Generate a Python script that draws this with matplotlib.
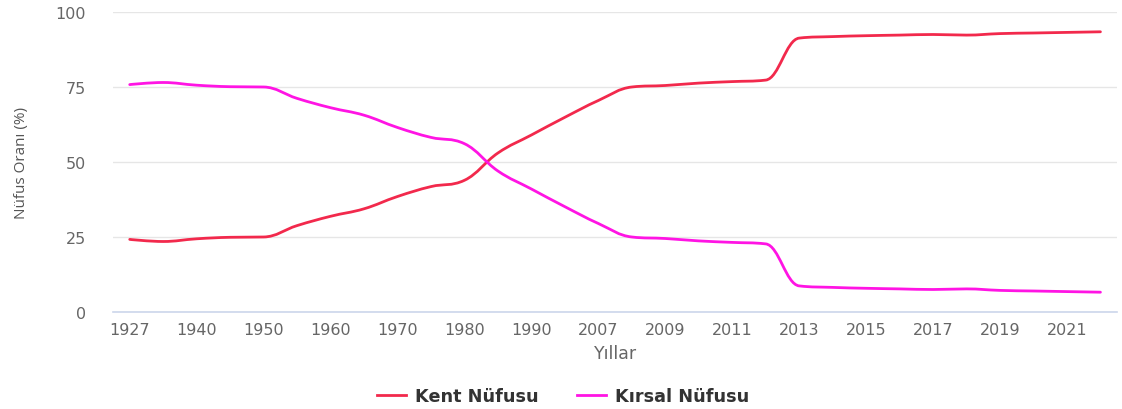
import numpy as np
import matplotlib.pyplot as plt
from matplotlib.path import Path
from matplotlib.patches import PathPatch
from matplotlib.lines import Line2D

plt.rcParams['font.family'] = ['DejaVu Sans']

## data
years = ['1927', '1935', '1940', '1945', '1950', '1955', '1960', '1965', '1970', '1975',
         '1980', '1985', '1990', '2000', '2007', '2008', '2009', '2010', '2011', '2012',
         '2013', '2014', '2015', '2016', '2017', '2018', '2019', '2020', '2021', '2022']
kent = [24.2, 23.5, 24.4, 24.9, 25.0, 28.8, 31.9, 34.4, 38.5, 41.8,
        43.9, 53.0, 59.0, 64.9, 70.5, 75.0, 75.5, 76.3, 76.8, 77.3,
        91.3, 91.8, 92.1, 92.3, 92.5, 92.3, 92.8, 93.0, 93.2, 93.4]
kirsal = [75.8, 76.5, 75.6, 75.1, 75.0, 71.2, 68.1, 65.6, 61.5, 58.2,
          56.1, 47.0, 41.0, 35.1, 29.5, 25.0, 24.5, 23.7, 23.2, 22.7,
          8.7, 8.2, 7.9, 7.7, 7.5, 7.7, 7.2, 7.0, 6.8, 6.6]

kent_color = '#F2294C'
kirsal_color = '#FF14E4'


## smooth spline path (highcharts style control points)
def spline_path(xs, ys, smoothing=1.5):
    n = len(xs)
    lc = [None] * n
    rc = [None] * n
    for i in range(1, n - 1):
        px, py = xs[i], ys[i]
        lx, ly = xs[i - 1], ys[i - 1]
        nx, ny = xs[i + 1], ys[i + 1]
        d = smoothing + 1
        lcx = (smoothing * px + lx) / d
        lcy = (smoothing * py + ly) / d
        rcx = (smoothing * px + nx) / d
        rcy = (smoothing * py + ny) / d
        corr = (rcy - lcy) * (rcx - px) / (rcx - lcx) + py - rcy
        lcy += corr
        rcy += corr
        if lcy > ly and lcy > py:
            lcy = max(ly, py)
            rcy = 2 * py - lcy
        elif lcy < ly and lcy < py:
            lcy = min(ly, py)
            rcy = 2 * py - lcy
        if rcy > ny and rcy > py:
            rcy = max(ny, py)
            lcy = 2 * py - rcy
        elif rcy < ny and rcy < py:
            rcy = min(ny, py)
            lcy = 2 * py - rcy
        lc[i] = (lcx, lcy)
        rc[i] = (rcx, rcy)
    verts = [(xs[0], ys[0])]
    codes = [Path.MOVETO]
    for i in range(1, n):
        c1 = rc[i - 1] if rc[i - 1] is not None else (xs[i - 1], ys[i - 1])
        c2 = lc[i] if lc[i] is not None else (xs[i], ys[i])
        verts += [c1, c2, (xs[i], ys[i])]
        codes += [Path.CURVE4] * 3
    return Path(verts, codes)


fig = plt.figure(figsize=(11.22, 4.10), dpi=100)
ax = fig.add_axes([0.1007, 0.2366, 0.895, 0.7317])

x = np.arange(len(years))
for vals, col in [(kent, kent_color), (kirsal, kirsal_color)]:
    p = PathPatch(spline_path(list(x), vals), facecolor='none', edgecolor=col,
                  lw=2, capstyle='round', joinstyle='round', zorder=3)
    ax.add_patch(p)

ax.set_xlim(-0.5, len(years) - 0.5)
ax.set_ylim(0, 100)
ax.set_yticks([0, 25, 50, 75, 100])
ax.set_xticks(x[::2])
ax.set_xticklabels(years[::2])
ax.grid(axis='y', color='#e6e6e6', lw=1)
ax.set_axisbelow(True)
for s in ['top', 'right', 'left']:
    ax.spines[s].set_visible(False)
ax.spines['bottom'].set_color('#ccd6eb')
ax.spines['bottom'].set_linewidth(1.2)
ax.tick_params(axis='both', length=0, colors='#666666', labelsize=11.5)
ax.tick_params(axis='y', pad=19.5)
ax.tick_params(axis='x', pad=7)

ax.set_ylabel('Nüfus Oranı (%)', color='#555555', fontsize=11, labelpad=19,
              family=['Open Sans', 'DejaVu Sans'])
ax.set_xlabel('Yıllar', color='#666666', fontsize=12.5, labelpad=5)

handles = [Line2D([], [], color=kent_color, lw=2),
           Line2D([], [], color=kirsal_color, lw=2)]
fig.legend(handles, ['Kent Nüfusu', 'Kırsal Nüfusu'], loc='center', ncol=2,
           bbox_to_anchor=(0.502, 0.032), frameon=False, handlelength=1.65,
           handletextpad=0.5, columnspacing=2.2,
           prop={'weight': 'bold', 'size': 12.7}, labelcolor='#333333')

fig.savefig('out.png', dpi=100)
